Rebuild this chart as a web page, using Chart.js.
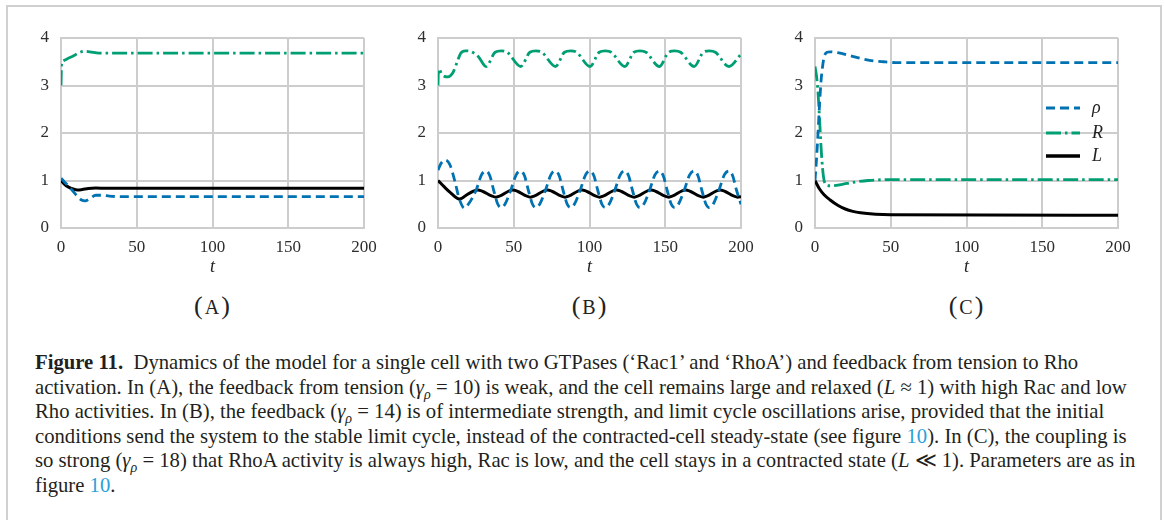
<!DOCTYPE html>
<html>
<head>
<meta charset="utf-8">
<script src="https://cdn.jsdelivr.net/npm/chart.js@4.4.1/dist/chart.umd.min.js"></script>
<style>
    body { margin: 0; background: #fff; width: 1165px; height: 520px; overflow: hidden; position: relative; font-family: "Liberation Serif", serif; }
    #frame { position: absolute; left: 6px; top: 5px; width: 1152px; height: 600px; border: 2px solid #d0d0d0; }
    canvas { position: absolute; top: 28px; }
    .lab { position: absolute; top: 291px; width: 120px; margin-left: -60px; text-align: center; font-size: 20px; color: #222; }
    .lab .p { font-size: 26px; padding: 0 2px; }
    #cap { position: absolute; left: 35px; top: 350px; font-size: 20.7px; line-height: 24.6px; color: #231f20; white-space: nowrap; }
    #cap .lnk { color: #2b9fd8; }
    #cap sub { font-size: 14px; line-height: 0; }
</style>
</head>
<body>
<div id="frame"></div>
<canvas id="chartA" width="360" height="250" style="left:20px"></canvas>
<canvas id="chartB" width="360" height="250" style="left:397px"></canvas>
<canvas id="chartC" width="360" height="250" style="left:774px"></canvas>
<div class="lab" style="left:212px"><span class="p">(</span>A<span class="p">)</span></div>
<div class="lab" style="left:589px"><span class="p">(</span>B<span class="p">)</span></div>
<div class="lab" style="left:966px"><span class="p">(</span>C<span class="p">)</span></div>
<div id="cap">
<b>Figure 11.</b>&nbsp; Dynamics of the model for a single cell with two GTPases (‘Rac1’ and ‘RhoA’) and feedback from tension to Rho<br>
activation. In (A), the feedback from tension (<i>γ</i><sub><i>ρ</i></sub> = 10) is weak, and the cell remains large and relaxed (<i>L</i> ≈ 1) with high Rac and low<br>
Rho activities. In (B), the feedback (<i>γ</i><sub><i>ρ</i></sub> = 14) is of intermediate strength, and limit cycle oscillations arise, provided that the initial<br>
conditions send the system to the stable limit cycle, instead of the contracted-cell steady-state (see figure <span class="lnk">10</span>). In (C), the coupling is<br>
so strong (<i>γ</i><sub><i>ρ</i></sub> = 18) that RhoA activity is always high, Rac is low, and the cell stays in a contracted state (<i>L</i> ≪ 1). Parameters are as in<br>
figure <span class="lnk">10</span>.
</div>
<script>
    // ---- Axis ticks ----
    const xTicks = [0, 50, 100, 150, 200];
    const yTicks = [0, 1, 2, 3, 4];

    // ---- Panel A (gamma = 10) ----
    const tA_rho = [0, 2, 5, 8, 11, 13.5, 16, 19, 23, 27, 32, 40, 60, 200];
    const rhoA = [1.05, 0.98, 0.88, 0.77, 0.66, 0.59, 0.57, 0.62, 0.69, 0.69, 0.67, 0.66, 0.66, 0.66];
    const tA_R = [0, 0.4, 1, 4, 8, 12, 15, 19, 25, 40, 200];
    const RA = [3.0, 3.46, 3.51, 3.56, 3.62, 3.69, 3.72, 3.71, 3.68, 3.68, 3.68];
    const tA_L = [0, 2, 5, 8, 11, 14, 18, 23, 30, 200];
    const LA = [1.0, 0.93, 0.86, 0.82, 0.80, 0.81, 0.83, 0.84, 0.835, 0.835];

    // ---- Panel B (gamma = 14), limit cycle ----
    const tB_rho = [0, 2, 5, 8, 11, 14, 17.4, 20,
        25.2, 28.7, 31.7, 34.2, 36.7, 39.5, 41.7, 44.2,
        48.1, 51.6, 54.6, 57.1, 59.6, 62.4, 64.6, 67.1,
        71.0, 74.5, 77.5, 80.0, 82.5, 85.3, 87.5, 90.0,
        93.9, 97.4, 100.4, 102.9, 105.4, 108.2, 110.4, 112.9,
        116.8, 120.3, 123.3, 125.8, 128.3, 131.1, 133.3, 135.8,
        139.7, 143.2, 146.2, 148.7, 151.2, 154.0, 156.2, 158.7,
        162.6, 166.1, 169.1, 171.6, 174.1, 176.9, 179.1, 181.6,
        185.5, 189.0, 192.0, 194.5, 197.0, 200];
    const rhoB = [1.22, 1.36, 1.43, 1.32, 1.0, 0.62, 0.42, 0.50,
        0.80, 1.12, 1.20, 1.10, 0.80, 0.50, 0.43, 0.50,
        0.80, 1.12, 1.20, 1.10, 0.80, 0.50, 0.43, 0.50,
        0.80, 1.12, 1.20, 1.10, 0.80, 0.50, 0.43, 0.50,
        0.80, 1.12, 1.20, 1.10, 0.80, 0.50, 0.43, 0.50,
        0.80, 1.12, 1.20, 1.10, 0.80, 0.50, 0.43, 0.50,
        0.80, 1.12, 1.20, 1.10, 0.80, 0.50, 0.43, 0.50,
        0.80, 1.12, 1.20, 1.10, 0.80, 0.50, 0.43, 0.50,
        0.80, 1.12, 1.20, 1.10, 0.80, 0.50];
    const tB_R = [0, 0.3, 3, 6.4, 10, 12.5, 15, 18, 22, 26.8,
        31.7, 37.7, 41.7, 45.7, 54.6, 60.6, 64.6, 68.6, 77.5, 83.5, 87.5, 91.5,
        100.4, 106.4, 110.4, 114.4, 123.3, 129.3, 133.3, 137.3, 146.2, 152.2, 156.2, 160.2,
        169.1, 175.1, 179.1, 183.1, 192.0, 200];
    const RB = [3.0, 3.35, 3.22, 3.18, 3.28, 3.48, 3.68, 3.73, 3.71, 3.60,
        3.40, 3.70, 3.73, 3.70, 3.40, 3.70, 3.73, 3.70, 3.40, 3.70, 3.73, 3.70,
        3.40, 3.70, 3.73, 3.70, 3.40, 3.70, 3.73, 3.70, 3.40, 3.70, 3.73, 3.70,
        3.40, 3.70, 3.73, 3.70, 3.40, 3.66];
    const tB_L = [0, 4, 8, 14.1, 20, 26.2, 38.3, 49.4, 61.1, 72.2, 83.9, 95.0, 106.7,
        117.8, 129.5, 140.6, 152.3, 163.4, 175.1, 186.2, 197.9, 200];
    const LB = [1.0, 0.87, 0.75, 0.61, 0.72, 0.80, 0.65, 0.80, 0.65, 0.80, 0.65, 0.80, 0.65,
        0.80, 0.65, 0.80, 0.65, 0.80, 0.65, 0.80, 0.65, 0.66];

    // ---- Panel C (gamma = 18) ----
    const tC_rho = [0, 1, 2, 3, 4, 5, 6, 8, 10, 15, 23, 30, 36, 45, 55, 200];
    const rhoC = [1.0, 1.45, 2.0, 2.6, 3.1, 3.4, 3.6, 3.7, 3.71, 3.69, 3.63, 3.57, 3.53, 3.5, 3.48, 3.48];
    const tC_R = [0, 1, 2, 3, 4, 5, 6, 7, 9, 12, 18, 25, 35, 50, 200];
    const RC = [3.4, 3.2, 2.85, 2.3, 1.7, 1.25, 1.0, 0.92, 0.89, 0.89, 0.92, 0.96, 1.0, 1.02, 1.02];
    const tC_L = [0, 3, 6, 10, 15, 20, 25, 30, 40, 50, 200];
    const LC = [1.0, 0.82, 0.70, 0.59, 0.48, 0.40, 0.35, 0.32, 0.29, 0.28, 0.27];

    // ---- Styles ----
    const BLUE = "#0072b2";
    const GREEN = "#009e73";
    const BLACK = "#000000";
    const GRID = "#cdcdcd";
    const TICK = "#2e2e2e";
    const SERIF = "'Liberation Serif', 'DejaVu Serif', serif";

    function series(label, t, v, color, dash, width) {
        return {
            label,
            data: t.map((x, i) => ({ x, y: v[i] })),
            borderColor: color,
            borderDash: dash,
            borderWidth: width,
            pointRadius: 0,
            cubicInterpolationMode: "monotone",
            fill: false,
        };
    }

    // legend drawn inside the plot area of panel C
    const insideLegend = {
        id: "insideLegend",
        afterDatasetsDraw(chart) {
            const ctx = chart.ctx;
            const ca = chart.chartArea;
            const x0 = ca.right - 72;
            const rows = [ca.top + 70, ca.top + 95, ca.top + 118];
            chart.data.datasets.forEach((ds, i) => {
                ctx.save();
                ctx.strokeStyle = ds.borderColor;
                ctx.lineWidth = ds.borderWidth + 0.4;
                ctx.setLineDash(ds.borderDash || []);
                ctx.beginPath();
                ctx.moveTo(x0, rows[i]);
                ctx.lineTo(x0 + 34, rows[i]);
                ctx.stroke();
                ctx.setLineDash([]);
                ctx.fillStyle = "#222";
                ctx.font = "italic 18px " + SERIF;
                ctx.textBaseline = "middle";
                ctx.fillText(ds.label, x0 + 46, rows[i]);
                ctx.restore();
            });
        },
    };

    function makePanel(id, sets, withLegend) {
        new Chart(document.getElementById(id), {
            type: "line",
            data: { datasets: sets },
            options: {
                responsive: false,
                animation: false,
                layout: { padding: { top: 10, right: 16, left: 0, bottom: 0 } },
                plugins: { legend: { display: false }, tooltip: { enabled: false } },
                scales: {
                    x: {
                        type: "linear",
                        min: xTicks[0],
                        max: xTicks[xTicks.length - 1],
                        afterBuildTicks: (s) => { s.ticks = xTicks.map((v) => ({ value: v })); },
                        ticks: { color: TICK, font: { family: SERIF, size: 17 }, padding: 9, maxRotation: 0 },
                        grid: { color: GRID, lineWidth: 2, drawTicks: false },
                        border: { color: GRID, width: 2 },
                        title: { display: true, text: "t", color: "#222", font: { family: SERIF, size: 18, style: "italic" }, padding: { top: 0, bottom: 0 } },
                        afterFit: (s) => { s.height = 50; s.paddingLeft = 0; s.paddingRight = 0; },
                    },
                    y: {
                        min: yTicks[0],
                        max: yTicks[yTicks.length - 1],
                        afterBuildTicks: (s) => { s.ticks = yTicks.map((v) => ({ value: v })); },
                        ticks: { color: TICK, font: { family: SERIF, size: 17 }, padding: 12 },
                        grid: { color: GRID, lineWidth: 2, drawTicks: false },
                        border: { color: GRID, width: 2 },
                        afterFit: (s) => { s.width = 41; s.paddingTop = 0; s.paddingBottom = 0; },
                    },
                },
            },
            plugins: withLegend ? [insideLegend] : [],
        });
    }

    makePanel("chartA", [
        series("ρ", tA_rho, rhoA, BLUE, [9, 5], 2.8),
        series("R", tA_R, RA, GREEN, [15, 4, 2.5, 4], 2.8),
        series("L", tA_L, LA, BLACK, [], 3),
    ], false);
    makePanel("chartB", [
        series("ρ", tB_rho, rhoB, BLUE, [9, 5], 2.8),
        series("R", tB_R, RB, GREEN, [15, 4, 2.5, 4], 2.8),
        series("L", tB_L, LB, BLACK, [], 3),
    ], false);
    makePanel("chartC", [
        series("ρ", tC_rho, rhoC, BLUE, [9, 5], 2.8),
        series("R", tC_R, RC, GREEN, [15, 4, 2.5, 4], 2.8),
        series("L", tC_L, LC, BLACK, [], 3),
    ], true);
</script>
</body>
</html>
